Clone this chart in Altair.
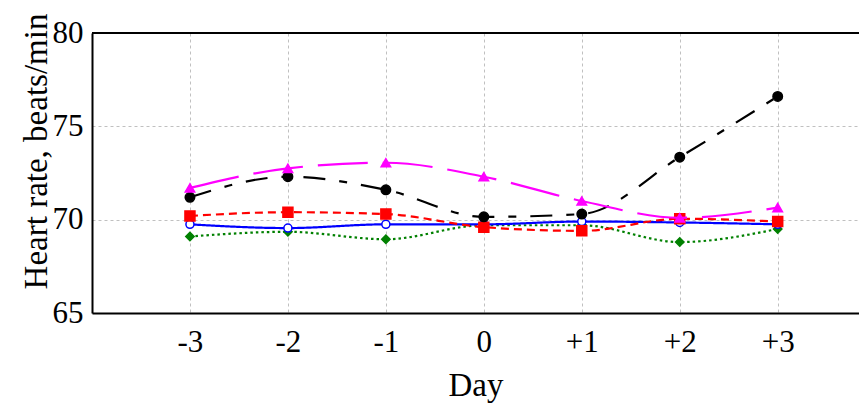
import altair as alt
import pandas as pd

days = [-3, -2, -1, 0, 1, 2, 3]
black = [71.2, 72.3, 71.6, 70.15, 70.3, 73.35, 76.6]
magenta = [71.7, 72.75, 73.05, 72.3, 71.0, 70.1, 70.65]
red = [70.2, 70.4, 70.3, 69.6, 69.4, 70.05, 69.9]
blue = [69.75, 69.55, 69.75, 69.75, 69.9, 69.85, 69.75]
green = [69.1, 69.35, 68.95, 69.7, 69.7, 68.8, 69.5]

series = [
    ("green", green, "#008000", [2.5, 3], "diamond", "#008000", 70),
    ("blue", blue, "#0000ff", [1, 0], "circle", "white", 65),
    ("red", red, "#ff0000", [8, 5], "square", "#ff0000", 100),
    ("black", black, "#000000", [22, 14, 8, 14], "circle", "#000000", 90),
    ("magenta", magenta, "#ff00ff", [50, 15], "triangle-up", "#ff00ff", 90),
]

xscale = alt.Scale(domain=[-4, 3.83], nice=False, zero=False)
yscale = alt.Scale(domain=[65, 80], nice=False, zero=False)

xaxis = alt.Axis(
    values=days, title="Day", labelExpr="datum.value > 0 ? '+' + datum.value : '' + datum.value",
    labelFontSize=31, titleFontSize=33, labelPadding=14, titlePadding=12, tickSize=0,
    grid=True, gridDash=[3, 3], gridColor="#c0c0c0", domainColor="black", domainWidth=2,
    labelFont="Liberation Serif", titleFont="Liberation Serif", labelColor="black",
    titleColor="black", titleFontWeight="normal", labelFlush=False,
)
yaxis = alt.Axis(
    values=[65, 70, 75, 80], title="Heart rate, beats/min", labelFontSize=31, titleFontSize=33,
    labelPadding=9, tickSize=0, grid=True, gridDash=[3, 3], gridColor="#c0c0c0",
    domainColor="black", domainWidth=2, labelFont="Liberation Serif", titleFont="Liberation Serif",
    labelColor="black", titleColor="black", titleFontWeight="normal", labelFlush=False,
    titleAngle=-90, titleAlign="center", titleBaseline="alphabetic", titleX=-46, titleY=118,
)

layers = []
first = True
for name, vals, color, dash, shape, fill, size in series:
    df = pd.DataFrame({"day": days, "hr": vals})
    base = alt.Chart(df)
    if first:
        enc_x = alt.X("day:Q", scale=xscale, axis=xaxis)
        enc_y = alt.Y("hr:Q", scale=yscale, axis=yaxis)
        first = False
    else:
        enc_x = alt.X("day:Q")
        enc_y = alt.Y("hr:Q")
    line = base.mark_line(color=color, strokeWidth=2.2, strokeDash=dash, interpolate="monotone").encode(x=enc_x, y=enc_y)
    pts = base.mark_point(shape=shape, filled=True, fill=fill, stroke=color, strokeWidth=1.5,
                          size=size, opacity=1).encode(x="day:Q", y="hr:Q")
    layers += [line, pts]

top = alt.Chart(pd.DataFrame({"y": [80]})).mark_rule(color="black", strokeWidth=2).encode(
    y=alt.Y("y:Q"))

chart = alt.layer(*layers, top).properties(
    width=767, height=280,
    autosize=alt.AutoSizeParams(type="none"),
    padding={"left": 84, "top": 25, "right": 0, "bottom": 90},
).configure_view(stroke=None)

chart.save("out.html", embed_options={"renderer": "svg", "actions": False})
